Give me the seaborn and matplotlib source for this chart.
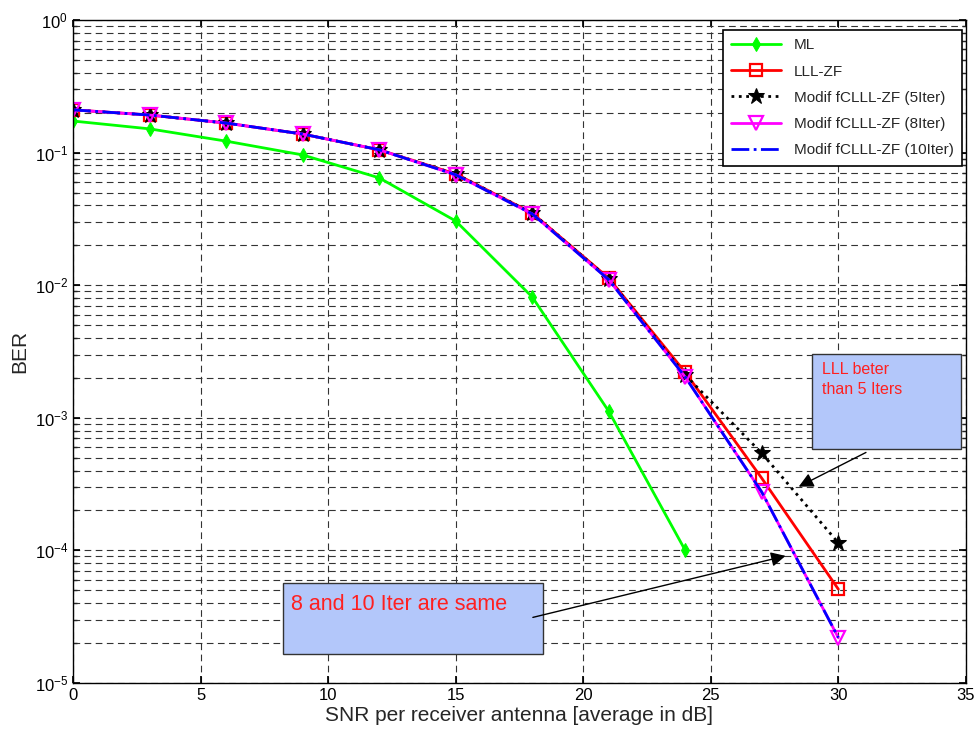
import numpy as np
import pandas as pd
import matplotlib
matplotlib.use("Agg")
import matplotlib.pyplot as plt
import seaborn as sns
from matplotlib.ticker import LogLocator, NullFormatter, MultipleLocator
from matplotlib.patches import Rectangle

snr_ml = [0, 3, 6, 9, 12, 15, 18, 21, 24]
ber_ml = [0.173, 0.151, 0.122, 0.096, 0.0645, 0.0305, 0.00815, 0.00112, 1.0e-4]

snr = [0, 3, 6, 9, 12, 15, 18, 21, 24, 27, 30]
ber_lll = [0.21, 0.192, 0.167, 0.138, 0.105, 0.069, 0.035, 0.0113, 0.0022, 3.5e-4, 5.1e-5]
ber_5 = [0.21, 0.192, 0.167, 0.138, 0.105, 0.069, 0.035, 0.0112, 0.0021, 5.4e-4, 1.14e-4]
ber_8 = [0.21, 0.192, 0.167, 0.138, 0.105, 0.068, 0.0345, 0.011, 0.00203, 2.75e-4, 2.2e-5]
ber_10 = [0.21, 0.192, 0.167, 0.138, 0.105, 0.068, 0.0345, 0.011, 0.00203, 2.75e-4, 2.2e-5]

labels = ["ML", "LLL-ZF", "Modif fCLLL-ZF (5Iter)", "Modif fCLLL-ZF (8Iter)", "Modif fCLLL-ZF (10Iter)"]

sns.set_theme(style="white")
plt.rcParams['font.family'] = ['Liberation Sans', 'DejaVu Sans']

fig = plt.figure(figsize=(9.79, 7.4), dpi=100)
ax = fig.add_axes([0.0746, 0.077, 0.912, 0.896])

series = [
    (snr_ml, ber_ml, dict(color="#00ff00", linestyle="-", marker="d", markersize=7, markerfacecolor="#00ff00", markeredgecolor="#00ff00")),
    (snr, ber_lll, dict(color="#ff0000", linestyle="-", marker="s", markersize=9, markerfacecolor="none", markeredgecolor="#ff0000", markeredgewidth=1.6)),
    (snr, ber_5, dict(color="black", linestyle=":", marker="*", markersize=12, markerfacecolor="black", markeredgecolor="black")),
    (snr, ber_8, dict(color="#ff00ff", linestyle="-", marker="v", markersize=10, markerfacecolor="none", markeredgecolor="#ff00ff", markeredgewidth=1.6)),
    (snr, ber_10, dict(color="#0000ff", linestyle="-.", marker=None)),
]
for (xs, ys, st), lab in zip(series, labels):
    df = pd.DataFrame({"x": xs, "y": ys})
    sns.lineplot(data=df, x="x", y="y", ax=ax, label=lab, linewidth=2, **st)

ax.set_yscale("log")
ax.set_xlim(0, 35)
ax.set_ylim(1e-5, 1)
ax.xaxis.set_major_locator(MultipleLocator(5))
ax.yaxis.set_major_locator(LogLocator(base=10, numticks=10))
ax.yaxis.set_minor_locator(LogLocator(base=10, subs=np.arange(2, 10), numticks=100))
ax.yaxis.set_minor_formatter(NullFormatter())

ax.grid(True, which="major", axis="both", color="#333333", linestyle=(0, (6, 4)), linewidth=0.8)
ax.grid(True, which="minor", axis="y", color="#333333", linestyle=(0, (6, 4)), linewidth=0.8)
ax.tick_params(axis="both", which="major", direction="in", length=5, labelsize=12, colors="black", left=True, bottom=True, top=True, right=True)
ax.tick_params(axis="y", which="minor", direction="in", length=3, left=True, right=True)
for s in ax.spines.values():
    s.set_color("black")
    s.set_linewidth(1)

ax.set_xlabel("SNR per receiver antenna [average in dB]", fontsize=15, labelpad=2)
ax.set_ylabel("BER", fontsize=15, labelpad=4)

leg = ax.legend(loc="upper right", fontsize=11, fancybox=False, framealpha=1, edgecolor="black",
                handlelength=3.3, borderpad=0.55, labelspacing=0.8, borderaxespad=0,
                bbox_to_anchor=(0.9955, 0.985))
leg.get_frame().set_linewidth(1.2)

# annotation boxes
box_color = "#b3c7fa"
ax.add_patch(Rectangle((28.98, 5.8e-4), 34.82 - 28.98, 3.03e-3 - 5.8e-4, facecolor=box_color, edgecolor="#333333", linewidth=1, zorder=5))
ax.text(29.35, 2.65e-3, "LLL beter\nthan 5 Iters", color="#ff2020", fontsize=11.5, va="top", ha="left", zorder=6, linespacing=1.45)
ax.add_patch(Rectangle((8.24, 1.66e-5), 18.43 - 8.24, 5.68e-5 - 1.66e-5, facecolor=box_color, edgecolor="#333333", linewidth=1, zorder=5))
ax.text(8.55, 3.94e-5, "8 and 10 Iter are same", color="#ff2020", fontsize=15.5, va="center", ha="left", zorder=6)

ax.annotate("", xy=(28.35, 2.96e-4), xytext=(31.18, 5.6e-4),
            arrowprops=dict(arrowstyle="-|>", color="black", lw=1, mutation_scale=22), zorder=7)
ax.annotate("", xy=(28.04, 9.2e-5), xytext=(17.92, 3.09e-5),
            arrowprops=dict(arrowstyle="-|>", color="black", lw=1, mutation_scale=22), zorder=7)

fig.savefig("out.png", dpi=100, facecolor="white")
